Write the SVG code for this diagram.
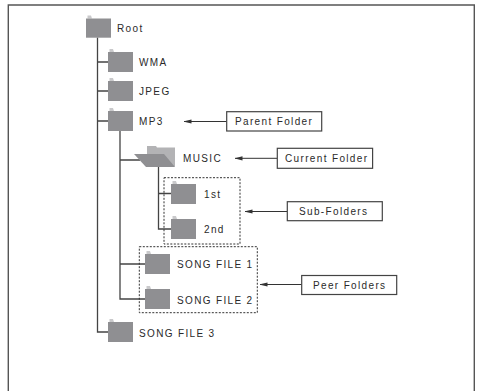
<svg xmlns="http://www.w3.org/2000/svg" width="478" height="391" viewBox="0 0 478 391">
<defs>
<style>
.t{font-family:"Liberation Sans",Arial,sans-serif;font-size:10px;letter-spacing:1.35px;fill:#2a2a2a;}
.ln{stroke:#444;stroke-width:1.3;fill:none;}
.box{stroke:#444;stroke-width:1.2;fill:#fff;}
.dash{stroke:#333;stroke-width:1;fill:none;stroke-dasharray:2 1.5;}
.ar{stroke:#333;stroke-width:1;fill:none;}
</style>
<symbol id="folder" overflow="visible">
<path d="M1.5,-3 L5,-3 L6,0 L1.5,0 Z" fill="#c9c9cb"/>
<rect x="0" y="0" width="25" height="20" fill="#8f8f92"/>
</symbol>
<marker id="ah" viewBox="0 0 8 6" refX="7.5" refY="3" markerWidth="8" markerHeight="6" orient="auto" markerUnits="userSpaceOnUse">
<path d="M8,3 L0,0.9 L0,5.1 Z" fill="#333"/>
</marker>
</defs>
<rect x="0" y="0" width="478" height="391" fill="#fff"/>
<path d="M8.3,391 L8.3,5 L474.3,5 L474.3,391" fill="none" stroke="#555" stroke-width="1.4"/>
<g id="connectors">
<path class="ln" d="M97.5,37.5 V332 H108 M97.5,62 H108 M97.5,91 H108 M97.5,121 H108"/>
<path class="ln" d="M120,131 V299 H145 M120,160 H140 M120,264 H145"/>
<path class="ln" d="M158.5,166 V229 H171 M158.5,193.5 H171"/>
<line class="ar" x1="226.7" y1="121.5" x2="184" y2="121.5" marker-end="url(#ah)"/>
<line class="ar" x1="277.3" y1="158.3" x2="235" y2="158.3" marker-end="url(#ah)"/>
<line class="ar" x1="287.3" y1="211.5" x2="245" y2="211.5" marker-end="url(#ah)"/>
<line class="ar" x1="301.7" y1="284.5" x2="260" y2="284.5" marker-end="url(#ah)"/>
</g>
<g id="root"><use href="#folder" transform="translate(86,18.5) scale(1,0.96)"/><text class="t" x="117" y="32">Root</text></g>
<g id="wma"><use href="#folder" x="108" y="52"/><text class="t" x="139" y="66">WMA</text></g>
<g id="jpeg"><use href="#folder" x="108" y="81"/><text class="t" x="139" y="95">JPEG</text></g>
<g id="mp3"><use href="#folder" x="108" y="111"/><text class="t" x="139" y="125">MP3</text></g>
<g id="music">
<path d="M147,147.5 L147,146 L156,146 L157,147.5 L175,147.5 L175,166.5 L147,166.5 Z" fill="#b3b3b5"/>
<path d="M134,154 L164,154 L175,167 L146,167 Z" fill="#8f8f92"/>
<text class="t" x="183" y="162">MUSIC</text>
</g>
<g id="sub-folders">
<rect class="dash" x="164" y="177.7" width="76" height="66.3"/>
<g id="first"><use href="#folder" x="171" y="184"/><text class="t" x="204" y="198">1st</text></g>
<g id="second"><use href="#folder" x="171" y="219"/><text class="t" x="204" y="233">2nd</text></g>
</g>
<g id="peer-folders">
<rect class="dash" x="139.3" y="246.7" width="118" height="66"/>
<g id="song1"><use href="#folder" x="145" y="254"/><text class="t" x="177" y="268">SONG FILE 1</text></g>
<g id="song2"><use href="#folder" x="145" y="289"/><text class="t" x="177" y="304">SONG FILE 2</text></g>
</g>
<g id="song3"><use href="#folder" x="108" y="322"/><text class="t" x="139" y="336.5">SONG FILE 3</text></g>
<g id="label-parent"><rect class="box" x="226.7" y="111.7" width="95" height="19.3"/><text class="t" x="235" y="125">Parent Folder</text></g>
<g id="label-current"><rect class="box" x="277.3" y="148.3" width="95.3" height="20"/><text class="t" x="285" y="162">Current Folder</text></g>
<g id="label-sub"><rect class="box" x="287.3" y="201.7" width="95" height="19"/><text class="t" x="299" y="215">Sub-Folders</text></g>
<g id="label-peer"><rect class="box" x="301.7" y="275.5" width="95" height="19"/><text class="t" x="313" y="289">Peer Folders</text></g>
</svg>
